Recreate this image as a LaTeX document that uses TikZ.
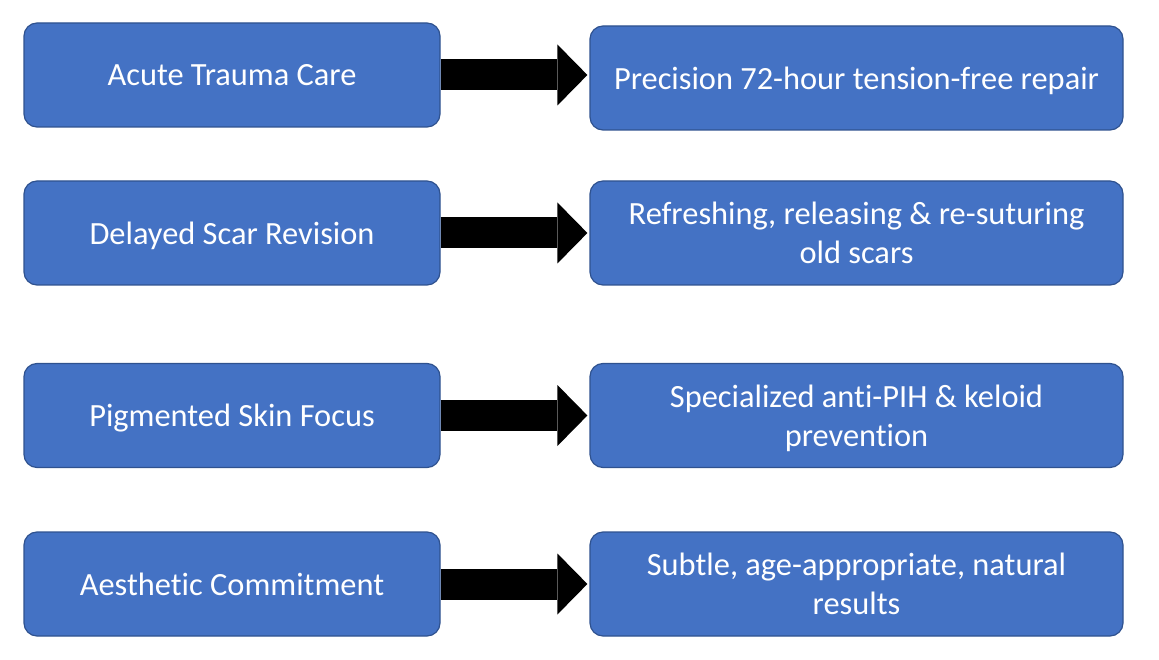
\documentclass[tikz,border=0pt]{standalone}
\usepackage{fontspec}
\setmainfont{Carlito}[Ligatures=NoCommon]
\usetikzlibrary{arrows.meta}
\definecolor{boxblue}{HTML}{4472C4}
\definecolor{boxedge}{HTML}{2F528F}

\begin{document}
\begin{tikzpicture}[
		x=1pt, y=-1pt,
		stage/.style={draw=boxedge, line width=1.2pt, fill=boxblue, rounded corners=13pt, text=white, align=center, font=\fontsize{32.4}{39}\selectfont, text depth=0pt, minimum height=104pt, inner sep=0pt},
		cause/.style={stage, minimum width=416pt},
		remedy/.style={stage, minimum width=533pt},
		blockarrow/.style={line width=31pt, -{Triangle[length=30pt, width=61pt, line width=0pt]}, shorten >=2pt},
	]
		\useasboundingbox (0,0) rectangle (1159,660);

		\node[cause] (c1) at (232,75) {Acute Trauma Care};
		\node[cause] (c2) at (232,233) {Delayed Scar Revision};
		\node[cause] (c3) at (232,415.5) {Pigmented Skin Focus};
		\node[cause] (c4) at (232,584) {Aesthetic Commitment};

		\node[remedy] (r1) at (856.5,78) {Precision 72-hour tension-free repair};
		\node[remedy] (r2) at (856.5,233) {Refreshing, releasing \& re-suturing\\old scars};
		\node[remedy] (r3) at (856.5,415.5) {Specialized anti-PIH \& keloid\\prevention};
		\node[remedy] (r4) at (856.5,584) {Subtle, age-appropriate, natural\\results};

		\draw[blockarrow] (c1.east) -- (c1.east -| r1.west);
		\draw[blockarrow] (c2.east) -- (c2.east -| r2.west);
		\draw[blockarrow] (c3.east) -- (c3.east -| r3.west);
		\draw[blockarrow] (c4.east) -- (c4.east -| r4.west);
	\end{tikzpicture}
\end{document}
